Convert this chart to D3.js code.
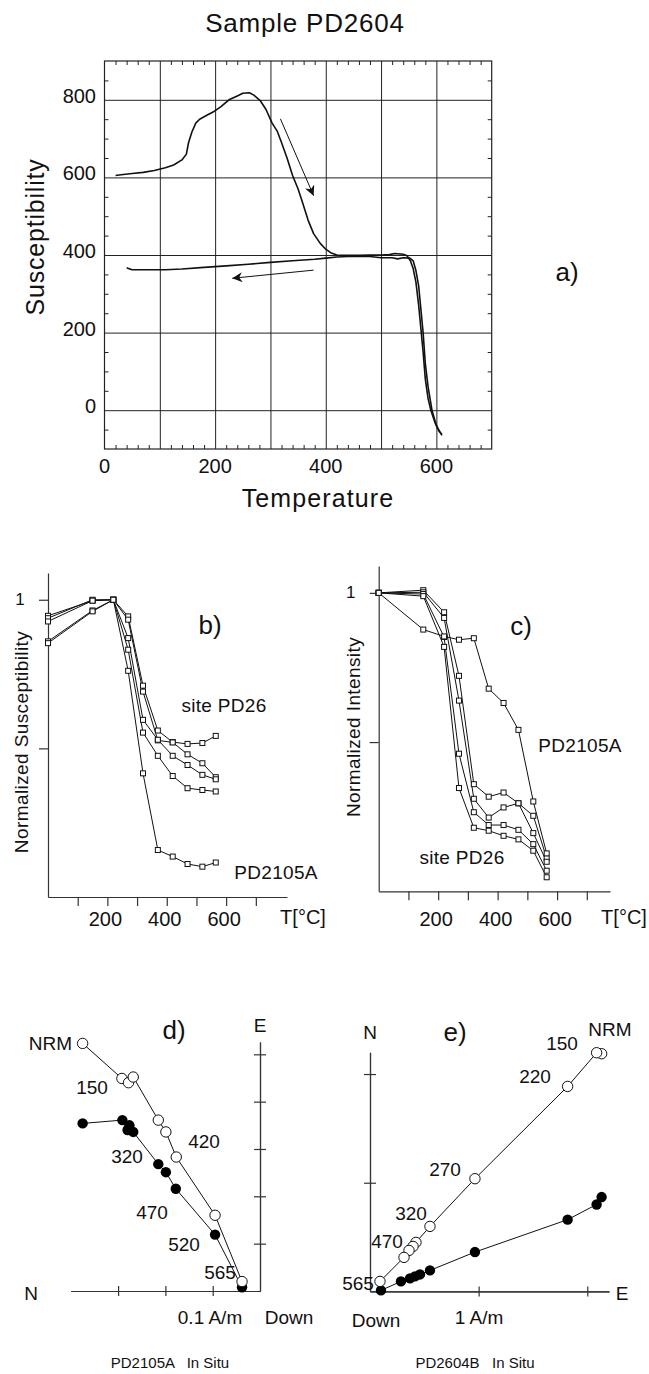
<!DOCTYPE html>
<html><head><meta charset="utf-8">
<script src="https://cdn.jsdelivr.net/npm/d3@7"></script>
<style>
html,body{margin:0;padding:0;background:#fff;}
svg text{font-family:"Liberation Sans",Arial,Helvetica,sans-serif;fill:#111;}
</style></head>
<body><svg id="c" width="649" height="1374"></svg>
<script>
// ---------- Panel a: susceptibility vs temperature ----------
const heatT = [20,30,50,70,90,110,125,140,148,152,158,165,172,185,198,210,225,240,250,262,270,282,292,303,312,320,330,340,350,358,368,378,390,400,410,420,440,460,480,500,515,525,540,547,553,558,563,568,572,576,580,585,590,597,605,610];
const heatK = [605,607,610,613,618,625,632,645,660,690,717,740,750,760,770,782,800,810,817,818,812,797,775,740,720,690,650,605,570,535,490,455,430,415,405,400,399,399,400,400,401,404,402,398,385,365,330,270,210,150,80,30,0,-30,-55,-62];
const coolT = [610,600,592,585,580,576,572,568,563,558,552,540,530,520,500,480,460,440,420,400,380,360,340,300,260,220,180,140,110,70,50,42,40];
const coolK = [-65,-40,0,60,120,200,260,320,360,385,392,393,390,393,393,396,397,396,395,392,389,387,385,381,376,372,368,364,362,362,362,366,367];
const aXTicks = [0,200,400,600];
const aYTicks = [0,200,400,600,800];
const arrowHeat = [[318,751],[378,553]];
const arrowCool = [[378,361],[231,340]];

// ---------- Panels b & c: thermal demag steps ----------
const stepT = [0,150,220,270,320,370,420,470,520,565];
const suscSite = [
  [0.946,0.997,1.0,0.944,0.711,0.560,0.521,0.515,0.518,0.542],
  [0.938,1.000,1.0,0.933,0.691,0.527,0.520,0.480,0.450,0.403],
  [0.927,0.997,1.0,0.871,0.596,0.529,0.475,0.444,0.411,0.396],
  [0.860,0.964,1.0,0.832,0.553,0.475,0.407,0.366,0.360,0.355]
];
const suscPD2105A = [0.854,0.961,1.0,0.761,0.416,0.158,0.136,0.111,0.102,0.116];
const intSite = [
  [1,1.009,0.935,0.722,0.359,0.317,0.331,0.295,0.253,0.111],
  [1,1.002,0.916,0.639,0.310,0.247,0.281,0.295,0.195,0.099],
  [1,0.996,0.852,0.461,0.265,0.222,0.222,0.206,0.158,0.069],
  [1,0.989,0.819,0.346,0.213,0.203,0.186,0.174,0.136,0.047]
];
const intPD2105A = [1,0.877,0.854,0.843,0.848,0.679,0.631,0.541,0.301,0.127];
const bcXTicks = [100,200,300,400,500,600,700];
const bcXLabels = [200,400,600];

// ---------- Panel d: PD2105A Zijderveld (A/m) ----------
const dOpenN   = [0.375,0.292,0.278,0.268,0.215,0.199,0.177,0.095,0.038];
const dOpenV   = [0.523,0.449,0.440,0.452,0.361,0.336,0.283,0.160,0.020];
const dFillN   = [0.375,0.291,0.276,0.280,0.268,0.215,0.199,0.178,0.095,0.038];
const dFillV   = [0.354,0.361,0.350,0.340,0.336,0.268,0.251,0.216,0.119,0.008];
const dTicks = [0.1,0.2,0.3,0.4,0.5];

// ---------- Panel e: PD2604B Zijderveld (A/m) ----------
const eOpenE = [2.132,2.086,1.819,0.966,0.552,0.423,0.396,0.359,0.313,0.092];
const eOpenV = [2.187,2.196,1.886,1.037,0.598,0.451,0.414,0.377,0.313,0.092];
const eFillE = [2.132,2.086,1.819,0.966,0.552,0.460,0.414,0.368,0.285,0.101];
const eFillV = [0.868,0.800,0.660,0.362,0.193,0.156,0.138,0.120,0.092,0.009];
const eTicks = [1,2];

const svg = d3.select("#c");
function txt(x,y,s,size,anchor,opts){
  const t = svg.append("text").attr("x",x).attr("y",y).attr("font-size",size)
    .attr("text-anchor",anchor||"middle").attr("dominant-baseline","central").text(s);
  if(opts&&opts.ls) t.attr("letter-spacing",opts.ls);
  if(opts&&opts.rot) t.attr("transform",`rotate(-90 ${x} ${y})`);
  t.style("white-space","pre");
  return t;
}

// ===== Panel a =====
{
  const x = d3.scaleLinear([0,700],[104.5,491.7]);
  const y = d3.scaleLinear([-100,900],[449,61]);
  const g = svg.append("g");
  const minX = d3.range(20,700,20).filter(v=>v%100!==0);
  const minY = d3.range(-50,900,50).filter(v=>v%200!==0);
  g.append("g").attr("transform",`translate(0,${y(-100)})`)
    .call(d3.axisTop(x).tickValues(minX).tickSize(4).tickFormat(""));
  g.append("g").attr("transform",`translate(0,${y(900)})`)
    .call(d3.axisBottom(x).tickValues(minX).tickSize(4).tickFormat(""));
  g.append("g").attr("transform",`translate(${x(0)},0)`)
    .call(d3.axisRight(y).tickValues(minY).tickSize(4).tickFormat(""));
  g.append("g").attr("transform",`translate(${x(700)},0)`)
    .call(d3.axisLeft(y).tickValues(minY).tickSize(4).tickFormat(""));
  g.append("g").attr("transform",`translate(0,${y(-100)})`)
    .call(d3.axisBottom(x).tickValues([100,200,300,400,500,600]).tickSize(-(y(-100)-y(900))).tickFormat(""));
  g.append("g").attr("transform",`translate(${x(0)},0)`)
    .call(d3.axisLeft(y).tickValues(aYTicks).tickSize(-(x(700)-x(0))).tickFormat(""));
  g.selectAll(".domain").remove();
  g.selectAll("line").attr("stroke","#222").attr("stroke-width",1);
  g.append("rect").attr("x",x(0)).attr("y",y(900)).attr("width",x(700)-x(0)).attr("height",y(-100)-y(900))
    .attr("fill","none").attr("stroke","#222").attr("stroke-width",1.2);
  aXTicks.forEach(v=>txt(x(v),466,String(v),20));
  aYTicks.forEach(v=>txt(96,y(v)-4,String(v),20,"end"));
  const line = d3.line().x(d=>x(d[0])).y(d=>y(d[1]));
  g.append("path").attr("d",line(heatT.map((t,i)=>[t,heatK[i]]))).attr("fill","none").attr("stroke","#111").attr("stroke-width",1.6).attr("stroke-linejoin","round");
  g.append("path").attr("d",line(coolT.map((t,i)=>[t,coolK[i]]))).attr("fill","none").attr("stroke","#111").attr("stroke-width",1.6).attr("stroke-linejoin","round");
  const defs = svg.append("defs");
  defs.append("marker").attr("id","ah").attr("viewBox","0 0 10 10").attr("refX",10).attr("refY",5)
    .attr("markerWidth",14).attr("markerHeight",10).attr("markerUnits","userSpaceOnUse").attr("orient","auto")
    .append("path").attr("d","M0,0 L10,5 L0,10 L3,5 Z").attr("fill","#111");
  [arrowHeat,arrowCool].forEach(a=>{
    g.append("line").attr("x1",x(a[0][0])).attr("y1",y(a[0][1])).attr("x2",x(a[1][0])).attr("y2",y(a[1][1]))
      .attr("stroke","#111").attr("stroke-width",1).attr("marker-end","url(#ah)");
  });
  txt(305,23,"Sample PD2604",26,"middle",{ls:0.8});
  txt(35,237,"Susceptibility",25,"middle",{ls:0.8,rot:true});
  txt(318,498,"Temperature",25,"middle",{ls:1.1});
  txt(567,272,"a)",26);
}

// ===== Panels b, c =====
function demag(opts){
  const x = d3.scaleLinear([0,opts.xmax],[opts.x0,opts.x1]);
  const y = d3.scaleLinear([0,1.09],[opts.y0,opts.ytop]);
  const g = svg.append("g");
  g.append("g").attr("transform",`translate(0,${opts.y0})`)
    .call(d3.axisBottom(x).tickValues(bcXTicks).tickSize(9).tickSizeOuter(0).tickFormat(""));
  g.append("g").attr("transform",`translate(${opts.x0},0)`)
    .call(d3.axisLeft(y).tickValues([0.5,1]).tickSize(9).tickSizeOuter(0).tickFormat(""));
  g.selectAll("line,path.domain").attr("stroke","#333").attr("stroke-width",1.2);
  bcXLabels.forEach(v=>txt(x(v)-2,919,String(v),20));
  txt(opts.x0-28,y(1),"1",17);
  txt(opts.tx,917,"T[°C]",20);
  const line = d3.line().x((d,i)=>x(stepT[i])).y(d=>y(d));
  const all = opts.site.concat([opts.pd]);
  all.forEach(s=>{
    g.append("path").attr("d",line(s)).attr("fill","none").attr("stroke","#111").attr("stroke-width",1);
  });
  all.forEach(s=>{
    g.selectAll(null).data(s).enter().append("rect")
      .attr("x",(d,i)=>x(stepT[i])-2.5).attr("y",d=>y(d)-2.5).attr("width",5).attr("height",5)
      .attr("fill","#fff").attr("stroke","#111").attr("stroke-width",1);
  });
}
demag({xmax:805,x0:48,x1:287,y0:897,ytop:573,site:suscSite,pd:suscPD2105A,tx:303});
txt(21,742,"Normalized Susceptibility",19,"middle",{ls:0.4,rot:true});
txt(210,625,"b)",26);
txt(224,705,"site PD26",19,"middle",{ls:0.3});
txt(276,872,"PD2105A",19,"middle",{ls:0.3});

demag({xmax:778,x0:378.7,x1:610,y0:891.3,ytop:566,site:intSite,pd:intPD2105A,tx:624});
txt(353,727,"Normalized Intensity",19,"middle",{ls:0.4,rot:true});
txt(521,626,"c)",26);
txt(580,745,"PD2105A",19,"middle",{ls:0.3});
txt(462,857,"site PD26",19,"middle",{ls:0.3});

// ===== Zijderveld helper =====
function zij(o){
  const g = svg.append("g");
  g.append("g").attr("transform",`translate(0,${o.oy})`)
    .call(d3.axisBottom(o.x).tickValues(o.hTicks).tickSize(5).tickSizeOuter(0).tickFormat(""));
  g.append("g").attr("transform",`translate(0,${o.oy})`)
    .call(d3.axisTop(o.x).tickValues(o.hTicks).tickSize(5).tickSizeOuter(0).tickFormat(""));
  g.append("g").attr("transform",`translate(${o.ox},0)`)
    .call(d3.axisLeft(o.y).tickValues(o.vTicks).tickSize(6).tickSizeOuter(0).tickFormat(""));
  g.append("g").attr("transform",`translate(${o.ox},0)`)
    .call(d3.axisRight(o.y).tickValues(o.vTicks).tickSize(6).tickSizeOuter(0).tickFormat(""));
  g.selectAll("line,path.domain").attr("stroke","#333").attr("stroke-width",1.2);
  const line = d3.line().x(d=>o.x(d[0])).y(d=>o.y(d[1]));
  [o.fill,o.open].forEach(s=>g.append("path").attr("d",line(s)).attr("fill","none").attr("stroke","#111").attr("stroke-width",1));
  g.selectAll(null).data(o.fill).enter().append("circle").attr("cx",d=>o.x(d[0])).attr("cy",d=>o.y(d[1])).attr("r",5.2).attr("fill","#000");
  g.selectAll(null).data(o.open).enter().append("circle").attr("cx",d=>o.x(d[0])).attr("cy",d=>o.y(d[1])).attr("r",5.2).attr("fill","#fff").attr("stroke","#111").attr("stroke-width",1);
}
zij({
  x: d3.scaleLinear([0,0.4],[260,70.8]), y: d3.scaleLinear([0,0.526],[1291,1042]),
  ox:260, oy:1291, hTicks:[0.1,0.2,0.3], vTicks:dTicks,
  open: dOpenN.map((n,i)=>[n,dOpenV[i]]), fill: dFillN.map((n,i)=>[n,dFillV[i]])
});
txt(72,1043,"NRM",19,"end");
txt(92,1087,"150",19);
txt(204,1141,"420",19);
txt(127,1156,"320",19);
txt(152,1212,"470",19);
txt(184,1244,"520",19);
txt(220,1272,"565",19);
txt(174,1030,"d)",26);
txt(260,1025,"E",19);
txt(31,1293,"N",19);
txt(210,1317,"0.1 A/m",19);
txt(289,1317,"Down",19);

zij({
  x: d3.scaleLinear([0,2.2],[370,609]), y: d3.scaleLinear([0,2.2],[1291.4,1052.3]),
  ox:370, oy:1291.4, hTicks:eTicks, vTicks:eTicks,
  open: eOpenE.map((n,i)=>[n,eOpenV[i]]), fill: eFillE.map((n,i)=>[n,eFillV[i]])
});
txt(370,1032,"N",19);
txt(455,1032,"e)",26);
txt(610,1029,"NRM",19);
txt(562,1043,"150",19);
txt(535,1076,"220",19);
txt(445,1169,"270",19);
txt(411,1213,"320",19);
txt(387,1241,"470",19);
txt(358,1283,"565",19);
txt(622,1293,"E",19);
txt(376,1320,"Down",19);
txt(479,1317,"1 A/m",19);

txt(170,1362,"PD2105A   In Situ",15);
txt(475,1362,"PD2604B   In Situ",15);
</script></body></html>
